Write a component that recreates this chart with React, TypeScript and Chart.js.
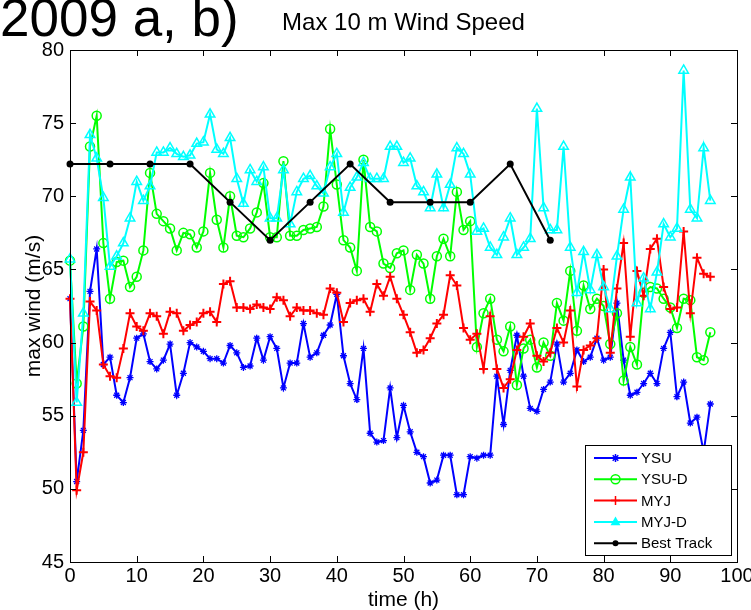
import React, { useEffect, useRef } from "react";
import { Chart, registerables } from "chart.js";

Chart.register(...registerables);

const HOURS = [
  0, 1, 2, 3, 4, 5, 6, 7, 8, 9, 10, 11, 12, 13, 14, 15, 16, 17, 18, 19, 20,
  21, 22, 23, 24, 25, 26, 27, 28, 29, 30, 31, 32, 33, 34, 35, 36, 37, 38, 39,
  40, 41, 42, 43, 44, 45, 46, 47, 48, 49, 50, 51, 52, 53, 54, 55, 56, 57, 58,
  59, 60, 61, 62, 63, 64, 65, 66, 67, 68, 69, 70, 71, 72, 73, 74, 75, 76, 77,
  78, 79, 80, 81, 82, 83, 84, 85, 86, 87, 88, 89, 90, 91, 92, 93, 94, 95, 96,
];

const YSU = [
  63.0, 50.5, 54.0, 63.5, 66.4, 58.5, 59.0, 56.4, 55.9, 57.6, 60.3, 60.6, 58.7,
  58.2, 58.8, 59.9, 56.4, 57.9, 60.0, 59.7, 59.4, 58.9, 58.9, 58.6, 59.8, 59.3,
  58.3, 58.4, 60.3, 58.8, 60.4, 59.6, 56.9, 58.6, 58.6, 61.3, 59.0, 59.3, 60.5,
  61.2, 63.3, 59.1, 57.2, 56.1, 59.6, 53.8, 53.2, 53.3, 56.9, 53.5, 55.7, 53.9,
  52.5, 52.2, 50.4, 50.6, 52.3, 52.3, 49.6, 49.6, 52.2, 52.1, 52.3, 52.3, 57.7,
  54.4, 58.1, 60.5, 57.7, 55.5, 55.3, 56.8, 57.3, 59.9, 57.3, 57.9, 59.5, 58.7,
  59.0, 60.3, 58.8, 59.0, 62.7, 58.8, 56.4, 56.6, 57.2, 57.9, 57.2, 59.6, 60.7,
  56.3, 57.3, 54.5, 54.9, 52.5, 55.8,
];

const YSU_D = [
  65.6, 57.2, 61.1, 73.4, 75.5, 66.8, 63.0, 65.5, 65.6, 63.8, 64.5, 66.3, 71.6,
  68.8, 68.3, 67.8, 66.3, 67.5, 67.4, 66.5, 67.6, 71.6, 68.4, 66.5, 70.0, 67.3,
  67.2, 67.8, 68.9, 70.9, 67.2, 67.2, 72.4, 67.3, 67.3, 67.7, 67.8, 67.9, 69.3,
  74.6, 70.8, 67.0, 66.5, 64.9, 72.5, 67.9, 67.6, 65.4, 65.1, 66.1, 66.3, 63.6,
  66.0, 65.4, 63.0, 65.9, 67.1, 65.9, 70.3, 67.7, 68.3, 59.7, 62.0, 63.0, 60.2,
  59.4, 61.1, 57.1, 59.6, 60.2, 58.3, 60.0, 59.1, 62.7, 61.5, 64.9, 60.8, 63.9,
  62.3, 63.0, 62.5, 59.9, 62.0, 57.4, 59.7, 58.5, 63.4, 63.8, 63.7, 63.0, 62.4,
  61.0, 63.0, 62.9, 59.0, 58.8, 60.7,
];

const MYJ = [
  63.0, 49.9, 52.5, 62.8, 62.2, 58.5, 57.7, 57.6, 59.6, 62.0, 61.1, 60.8, 62.0,
  61.8, 60.6, 62.1, 62.0, 60.8, 61.2, 61.4, 62.0, 62.1, 61.4, 64.0, 64.2, 62.4,
  62.4, 62.3, 62.6, 62.4, 62.3, 63.1, 62.9, 61.8, 62.4, 62.2, 62.2, 62.0, 61.9,
  63.7, 63.4, 61.4, 62.7, 62.9, 63.0, 62.1, 64.0, 63.2, 64.5, 63.0, 61.9, 60.7,
  59.3, 59.5, 60.3, 61.3, 61.9, 64.6, 63.9, 61.0, 60.2, 60.6, 58.2, 61.8, 58.2,
  56.9, 57.5, 59.5, 60.4, 61.3, 59.1, 58.7, 59.3, 61.0, 60.0, 62.2, 57.0, 59.5,
  59.8, 60.3, 65.0, 59.3, 63.7, 66.8, 60.4, 64.9, 63.2, 66.4, 67.1, 63.8, 62.3,
  62.4, 67.6, 62.0, 65.8, 64.7, 64.5,
];

const MYJ_D = [
  65.7, 55.9, 62.0, 74.2, 72.6, 69.9, 65.2, 65.9, 66.8, 68.5, 71.0, 69.7, 70.7,
  73.0, 73.0, 73.3, 72.9, 72.7, 72.8, 73.6, 73.7, 75.6, 73.2, 72.9, 74.0, 71.2,
  69.5, 71.8, 71.0, 72.0, 68.5, 68.5, 71.8, 68.1, 70.3, 71.2, 71.4, 70.7, 70.2,
  72.0, 72.9, 68.9, 70.6, 71.3, 72.3, 71.2, 71.2, 71.2, 73.4, 73.4, 72.3, 72.6,
  70.7, 70.3, 69.2, 71.5, 69.2, 70.8, 73.3, 72.9, 71.5, 67.6, 67.8, 66.5, 66.0,
  67.2, 68.5, 66.0, 66.5, 67.1, 76.0, 69.2, 67.7, 67.7, 73.4, 66.5, 63.4, 66.2,
  63.6, 66.0, 63.8, 62.3, 65.9, 69.1, 71.3, 62.7, 64.4, 62.3, 64.8, 68.1, 67.2,
  67.8, 78.6, 69.1, 68.5, 73.3, 69.7,
];

const BEST_HOURS = [0, 6, 12, 18, 24, 30, 36, 42, 48, 54, 60, 66, 72];
const BEST_TRACK = [72.2, 72.2, 72.2, 72.2, 69.6, 67.0, 69.6, 72.2, 69.6, 69.6, 69.6, 72.2, 67.0];

const X_TICKS = [0, 10, 20, 30, 40, 50, 60, 70, 80, 90, 100];
const Y_TICKS = [45, 50, 55, 60, 65, 70, 75, 80];

const SERIES_NAMES = ["YSU", "YSU-D", "MYJ", "MYJ-D", "Best Track"];
const SERIES_COLORS = ["#0000ff", "#00ff00", "#ff0000", "#00ffff", "#000000"];

const FONT = '"Liberation Sans", Arial, Helvetica, sans-serif';

function toPoints(xs: number[], ys: number[]) {
  return ys.map((v, i) => ({ x: xs[i], y: v }));
}

function drawMarker(ctx: CanvasRenderingContext2D, kind: string, x: number, y: number, r: number, color: string) {
  ctx.save();
  ctx.strokeStyle = color;
  ctx.fillStyle = color;
  ctx.lineWidth = 1.5;
  ctx.beginPath();
  if (kind === "star") {
    ctx.moveTo(x - r, y); ctx.lineTo(x + r, y);
    ctx.moveTo(x, y - r); ctx.lineTo(x, y + r);
    const d = r * 0.7;
    ctx.moveTo(x - d, y - d); ctx.lineTo(x + d, y + d);
    ctx.moveTo(x - d, y + d); ctx.lineTo(x + d, y - d);
    ctx.stroke();
  } else if (kind === "circle") {
    ctx.arc(x, y, r, 0, Math.PI * 2);
    ctx.stroke();
  } else if (kind === "cross") {
    ctx.moveTo(x - r, y); ctx.lineTo(x + r, y);
    ctx.moveTo(x, y - r); ctx.lineTo(x, y + r);
    ctx.stroke();
  } else if (kind === "triangle") {
    ctx.moveTo(x, y - r);
    ctx.lineTo(x + r * 0.9, y + r * 0.6);
    ctx.lineTo(x - r * 0.9, y + r * 0.6);
    ctx.closePath();
    ctx.fill();
  } else {
    ctx.arc(x, y, r, 0, Math.PI * 2);
    ctx.fill();
  }
  ctx.restore();
}

const framePlugin = {
  id: "matlabFrame",
  afterDraw(chart: any) {
    const { ctx, chartArea } = chart;
    const { left, right, top, bottom } = chartArea;
    const xs = chart.scales.x;
    const ys = chart.scales.y;
    ctx.save();
    ctx.strokeStyle = "#000";
    ctx.lineWidth = 1;
    ctx.strokeRect(Math.round(left) + 0.5, Math.round(top) + 0.5, Math.round(right - left), Math.round(bottom - top));
    const tl = 6;
    ctx.beginPath();
    X_TICKS.forEach((v) => {
      const px = Math.round(xs.getPixelForValue(v)) + 0.5;
      ctx.moveTo(px, bottom); ctx.lineTo(px, bottom - tl);
      ctx.moveTo(px, top); ctx.lineTo(px, top + tl);
    });
    Y_TICKS.forEach((v) => {
      const py = Math.round(ys.getPixelForValue(v)) + 0.5;
      ctx.moveTo(left, py); ctx.lineTo(left + tl, py);
      ctx.moveTo(right, py); ctx.lineTo(right - tl, py);
    });
    ctx.stroke();

    ctx.fillStyle = "#000";
    ctx.font = `20px ${FONT}`;
    ctx.textAlign = "center";
    ctx.textBaseline = "top";
    X_TICKS.forEach((v) => {
      ctx.fillText(String(v), xs.getPixelForValue(v), bottom + 4);
    });
    ctx.textAlign = "right";
    ctx.textBaseline = "middle";
    Y_TICKS.forEach((v) => {
      ctx.fillText(String(v), left - 6, ys.getPixelForValue(v));
    });

    // axis titles
    ctx.font = `21px ${FONT}`;
    ctx.textAlign = "center";
    ctx.textBaseline = "alphabetic";
    ctx.fillText("time (h)", (left + right) / 2, bottom + 44);
    ctx.save();
    ctx.translate(40, (top + bottom) / 2);
    ctx.rotate(-Math.PI / 2);
    ctx.fillText("max wind (m/s)", 0, 0);
    ctx.restore();

    // title
    ctx.font = `24px ${FONT}`;
    ctx.fillText("Max 10 m Wind Speed", (left + right) / 2, 30);

    // clipped heading
    ctx.textAlign = "left";
    ctx.font = `53px ${FONT}`;
    ctx.fillText("2009 a, b)", 0, 36);

    // legend
    const lx = 585, ly = 445, lw = 146, lh = 110;
    ctx.fillStyle = "#fff";
    ctx.fillRect(lx, ly, lw, lh);
    ctx.strokeStyle = "#000";
    ctx.lineWidth = 1;
    ctx.strokeRect(lx + 0.5, ly + 0.5, lw, lh);
    const kinds = ["star", "circle", "cross", "triangle", "dot"];
    const sizes = [4, 4.5, 4.5, 5.5, 3];
    ctx.font = `15px ${FONT}`;
    ctx.textBaseline = "middle";
    SERIES_NAMES.forEach((name, i) => {
      const yy = ly + 13 + i * 21.3;
      ctx.strokeStyle = SERIES_COLORS[i];
      ctx.lineWidth = 2;
      ctx.beginPath();
      ctx.moveTo(lx + 9, yy);
      ctx.lineTo(lx + 52, yy);
      ctx.stroke();
      drawMarker(ctx, kinds[i], lx + 30.5, yy, sizes[i], SERIES_COLORS[i]);
      ctx.fillStyle = "#000";
      ctx.textAlign = "left";
      ctx.fillText(name, lx + 56, yy + 1);
    });
    ctx.restore();
  },
};

export default function App() {
  const ref = useRef<HTMLCanvasElement | null>(null);
  useEffect(() => {
    document.body.style.margin = "0";
    const canvas = ref.current;
    if (!canvas) return;
    const common = { borderWidth: 2, clip: false as any, tension: 0 };
    const chart = new Chart(canvas, {
      type: "line",
      data: {
        datasets: [
          {
            label: SERIES_NAMES[0],
            data: toPoints(HOURS, YSU),
            borderColor: SERIES_COLORS[0],
            backgroundColor: SERIES_COLORS[0],
            pointStyle: "star",
            pointRadius: 3.5,
            pointBorderWidth: 1.3,
            order: 5,
            ...common,
          },
          {
            label: SERIES_NAMES[1],
            data: toPoints(HOURS, YSU_D),
            borderColor: SERIES_COLORS[1],
            backgroundColor: "rgba(0,0,0,0)",
            pointBorderColor: SERIES_COLORS[1],
            pointBackgroundColor: "rgba(0,0,0,0)",
            pointStyle: "circle",
            pointRadius: 4.5,
            pointBorderWidth: 1.5,
            order: 4,
            ...common,
          },
          {
            label: SERIES_NAMES[2],
            data: toPoints(HOURS, MYJ),
            borderColor: SERIES_COLORS[2],
            backgroundColor: SERIES_COLORS[2],
            pointStyle: "cross",
            pointRadius: 4.5,
            pointBorderWidth: 2,
            order: 3,
            ...common,
          },
          {
            label: SERIES_NAMES[3],
            data: toPoints(HOURS, MYJ_D),
            borderColor: SERIES_COLORS[3],
            backgroundColor: "rgba(0,0,0,0)",
            pointBorderColor: SERIES_COLORS[3],
            pointBackgroundColor: "rgba(0,0,0,0)",
            pointStyle: "triangle",
            pointRadius: 5.5,
            pointBorderWidth: 1.5,
            order: 2,
            ...common,
          },
          {
            label: SERIES_NAMES[4],
            data: toPoints(BEST_HOURS, BEST_TRACK),
            borderColor: SERIES_COLORS[4],
            backgroundColor: SERIES_COLORS[4],
            pointBackgroundColor: SERIES_COLORS[4],
            pointStyle: "circle",
            pointRadius: 3.5,
            pointBorderWidth: 0,
            order: 1,
            ...common,
          },
        ],
      },
      options: {
        animation: false,
        responsive: false,
        devicePixelRatio: 1,
        layout: { padding: { left: 70, right: 14, top: 50, bottom: 48 } },
        plugins: { legend: { display: false }, tooltip: { enabled: false }, title: { display: false } },
        scales: {
          x: { type: "linear", min: 0, max: 100, display: false },
          y: { type: "linear", min: 45, max: 80, display: false },
        },
      },
      plugins: [framePlugin],
    });
    return () => chart.destroy();
  }, []);
  return (
    <div style={{ position: "absolute", left: 0, top: 0, width: 751, height: 610, background: "#fff" }}>
      <canvas ref={ref} width={751} height={610} style={{ width: 751, height: 610, display: "block" }} />
    </div>
  );
}
